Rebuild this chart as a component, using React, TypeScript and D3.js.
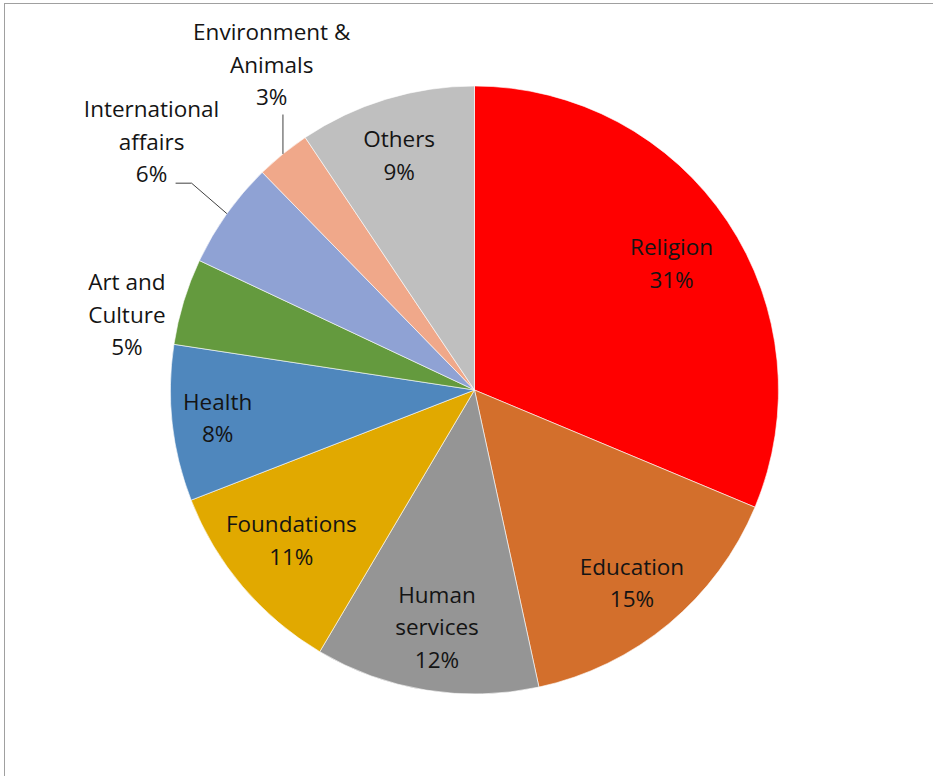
import React from "react";
import * as d3 from "d3";

const categories = [
  "Religion",
  "Education",
  "Human services",
  "Foundations",
  "Health",
  "Art and Culture",
  "International affairs",
  "Environment & Animals",
  "Others",
];
// shares (labels show them rounded)
const values = [31.3, 15.3, 11.9, 10.6, 8.3, 4.6, 5.7, 2.9, 9.4];
const labelLines = [
  ["Religion"],
  ["Education"],
  ["Human", "services"],
  ["Foundations"],
  ["Health"],
  ["Art and", "Culture"],
  ["International", "affairs"],
  ["Environment &", "Animals"],
  ["Others"],
];
const colors = [
  "#FF0000",
  "#D36F2C",
  "#959595",
  "#E1A900",
  "#4F87BD",
  "#649A3E",
  "#8FA2D4",
  "#F0A88A",
  "#BFBFBF",
];
// label placement: radius factor and angle shift (degrees) relative to slice mid-angle
const labelRadius = [0.77, 0.82, 0.79, 0.78, 0.85, 1.17, 1.34, 1.26, 0.81];
const labelShift = [1.0, 0.6, -0.2, 0.9, 0.1, -4.7, 2.1, 7.1, -0.9];
const hasLeader = [false, false, false, false, false, false, true, true, false];

const W = 933;
const H = 776;
const cx = 474.5;
const cy = 390;
const R = 304;
const FONT = "'Open Sans', 'Noto Sans', sans-serif";
const FS = 22.5;
const LH = 32.5;

function polar(angleDeg: number, r: number): [number, number] {
  const a = (angleDeg * Math.PI) / 180;
  return [cx + r * Math.sin(a), cy - r * Math.cos(a)];
}

export default function App() {
  const total = d3.sum(values);
  const pie = d3.pie<number>().sort(null).value((d) => d);
  const arcs = pie(values);
  const arc = d3.arc<d3.PieArcDatum<number>>().innerRadius(0).outerRadius(R);

  return (
    <svg
      width={W}
      height={H}
      style={{ position: "absolute", left: 0, top: 0, background: "#fff" }}
    >
      <rect x={4.5} y={3.5} width={W + 10} height={H + 10} fill="#fff" stroke="#a0a0a0" strokeWidth={1} />
      <g transform={`translate(${cx},${cy})`}>
        {arcs.map((a, i) => (
          <path key={categories[i]} d={arc(a) || ""} fill={colors[i]} stroke="#ffffff" strokeWidth={0.6} />
        ))}
      </g>
      {arcs.map((a, i) => {
        const mid = (((a.startAngle + a.endAngle) / 2) * 180) / Math.PI;
        const ang = mid + labelShift[i];
        const [lx, ly] = polar(ang, labelRadius[i] * R);
        const pct = Math.round((values[i] / total) * 100);
        const lines = [...labelLines[i], `${pct}%`];
        const top = ly - ((lines.length - 1) * LH) / 2;
        let leader = null;
        if (hasLeader[i]) {
          const [ex, ey] = polar(mid, R);
          if (i === 7) {
            leader = <path d={`M${ex},${top + 2 * LH + 17}L${ex},${ey}`} fill="none" stroke="#404040" strokeWidth={1} />;
          } else {
            const y0 = top + 2 * LH + 9;
            const x0 = lx + 24;
            leader = (
              <path d={`M${x0},${y0}L${x0 + 16},${y0}L${ex},${ey}`} fill="none" stroke="#404040" strokeWidth={1} />
            );
          }
        }
        return (
          <g key={"l" + i}>
            {leader}
            <text
              x={lx}
              y={top}
              textAnchor="middle"
              fontFamily={FONT}
              fontSize={FS}
              fill="#141414"
            >
              {lines.map((t, j) => (
                <tspan key={j} x={lx} y={top + j * LH} dy="0.35em">
                  {t}
                </tspan>
              ))}
            </text>
          </g>
        );
      })}
    </svg>
  );
}
